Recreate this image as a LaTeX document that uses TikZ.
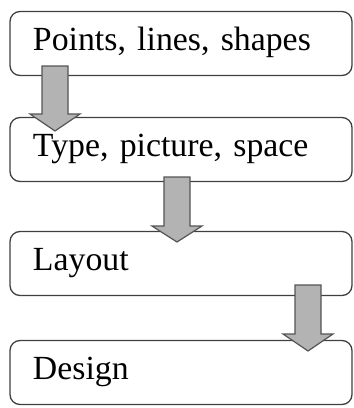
\documentclass[tikz,border=0pt]{standalone}
\usepackage{fontspec}
\setmainfont{LiberationSerif}[Extension=.ttf, UprightFont=*-Regular, BoldFont=*-Bold]
\definecolor{boxline}{HTML}{404040}
\definecolor{arrfill}{HTML}{B3B3B3}
\definecolor{arrline}{HTML}{555555}
\begin{document}
\begin{tikzpicture}[x=1pt,y=-1pt,
  stagebox/.style={draw=boxline, line width=1.3pt, fill=white, rounded corners=10pt,
    minimum height=64pt, text width=296pt, inner xsep=23pt, inner ysep=0pt, align=left,
    text height=21pt, text depth=8pt, font=\fontsize{33.8}{40}\selectfont},
  blockarrow/.style={draw=arrline, line width=1.2pt, fill=arrfill, line join=miter}]
\useasboundingbox (0,0) rectangle (354,408);
\node[stagebox] (b1) at (181,43.5) {Points, lines, shapes};
\node[stagebox] (b2) at (181,149.5) {Type, picture, space};
\node[stagebox] (b3) at (181,263.5) {Layout};
\node[stagebox] (b4) at (181,372.5) {Design};
% arrow 1
\draw[blockarrow] (42,66) -- (68,66) -- (68,114) -- (80,114) -- (55,131) -- (30,114) -- (42,114) -- cycle;
% arrow 2
\draw[blockarrow] (164,177) -- (190,177) -- (190,226) -- (202,226) -- (177,242) -- (152,226) -- (164,226) -- cycle;
% arrow 3
\draw[blockarrow] (295,285) -- (321,285) -- (321,334) -- (333,334) -- (308,351) -- (283,334) -- (295,334) -- cycle;
\end{tikzpicture}
\end{document}
